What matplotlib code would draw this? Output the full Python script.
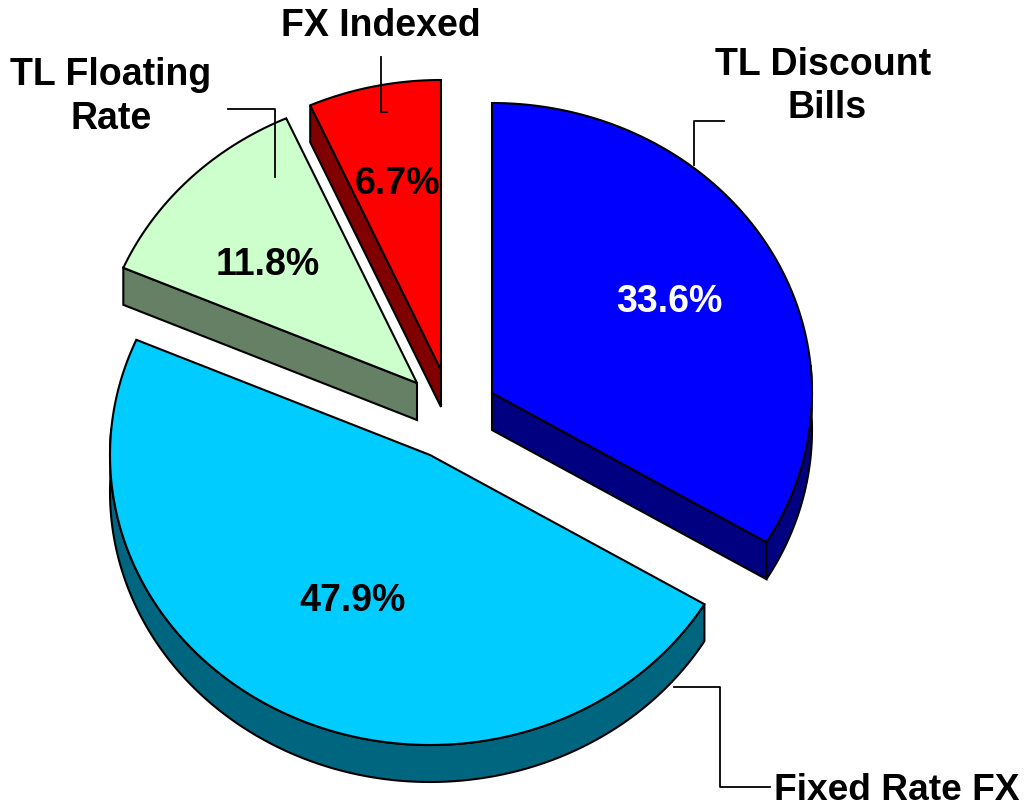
import numpy as np
import matplotlib
matplotlib.use("Agg")
import matplotlib.pyplot as plt
from matplotlib.patches import Polygon

plt.rcParams["font.family"] = ["Liberation Sans", "DejaVu Sans"]

names = ["TL Discount Bills", "Fixed Rate FX", "TL Floating Rate", "FX Indexed"]
values = [33.6, 47.9, 11.8, 6.7]
pct_labels = ["33.6%", "47.9%", "11.8%", "6.7%"]

colors = ["#0000FF", "#00CCFF", "#CCFFCC", "#FF0000"]
dark_colors = ["#000080", "#006680", "#668066", "#800000"]
pct_colors = ["white", "black", "black", "black"]
apex = [(492, 393), (430, 455), (417, 383), (441, 370)]
pct_pos = [(669, 299), (353, 598), (268, 262), (397, 181)]
wall_edge = [-1, None, 0, 0]   # which straight side shows, per slice

RX, RY = 320, 290   # squashed pie radii, pixels
DEPTH = 37


def rim(cx, cy, a0, a1):
    # angles clockwise from 12 o'clock
    t = np.radians(np.linspace(a0, a1, 200))
    return np.column_stack([cx + RX * np.sin(t), cy - RY * np.cos(t)])


fig = plt.figure(figsize=(10.27, 8.1), dpi=100)
ax = fig.add_axes([0, 0, 1, 1])
ax.set_xlim(0, 1027)
ax.set_ylim(810, 0)
ax.axis("off")

angles = np.cumsum([0] + values) * 3.6

for i in [3, 2, 0, 1]:
    cx, cy = apex[i]
    a0, a1 = angles[i], angles[i + 1]
    arc = rim(cx, cy, a0, a1)
    down = np.array([0, DEPTH])

    # walls first, the top goes over them
    if wall_edge[i] is not None:
        edge = arc[wall_edge[i]]
        wall = np.array([[cx, cy], edge, edge + down, [cx, cy + DEPTH]])
        ax.add_patch(Polygon(wall, fc=dark_colors[i], ec="black", lw=1.5, zorder=i + 1))
    low = arc[np.cos(np.radians(np.linspace(a0, a1, 200))) < 0.1]
    if i < 2 and len(low):
        outer = np.vstack([low, (low + down)[::-1]])
        ax.add_patch(Polygon(outer, fc=dark_colors[i], ec="black", lw=1.5, zorder=i + 1))

    top = np.vstack([[cx, cy], arc])
    ax.add_patch(Polygon(top, fc=colors[i], ec="black", lw=1.5, zorder=i + 1.5))

# leader lines
ax.plot([724, 694, 694], [121, 121, 165], color="black", lw=1.3, zorder=8)
ax.plot([381, 381, 387], [57, 112, 112], color="black", lw=1.3, zorder=8)
ax.plot([228, 275, 275], [109, 109, 177], color="black", lw=1.3, zorder=8)
ax.plot([674, 720, 720, 770], [687, 687, 787, 787], color="black", lw=1.3, zorder=8)

for lab, pos, c in zip(pct_labels, pct_pos, pct_colors):
    ax.text(pos[0], pos[1] + 3, lab, color=c, fontsize=27, fontweight="bold",
            ha="center", va="center", zorder=9)

ax.text(823, 65, "TL Discount", fontsize=27, fontweight="bold", ha="center", va="center", zorder=9)
ax.text(827, 108, "Bills", fontsize=27, fontweight="bold", ha="center", va="center", zorder=9)
ax.text(381, 26, "FX Indexed", fontsize=27, fontweight="bold", ha="center", va="center", zorder=9)
ax.text(111, 75, "TL Floating", fontsize=27, fontweight="bold", ha="center", va="center", zorder=9)
ax.text(111, 119, "Rate", fontsize=27, fontweight="bold", ha="center", va="center", zorder=9)
ax.text(897, 791, "Fixed Rate FX", fontsize=26.7, fontweight="bold", ha="center", va="center", zorder=9)

fig.savefig("out.png", dpi=100)
